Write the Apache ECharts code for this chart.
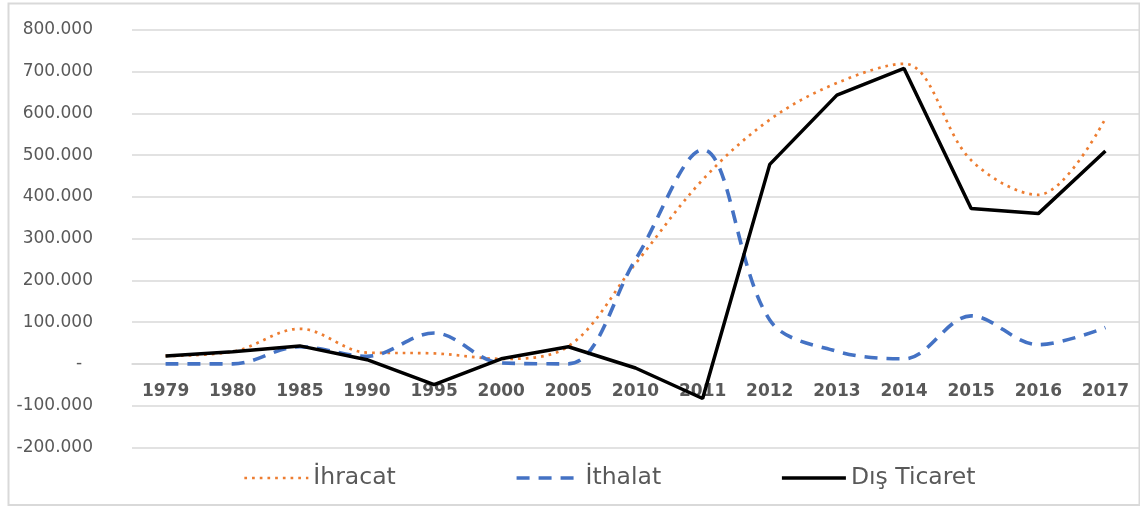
<!DOCTYPE html>
<html>
<head>
<meta charset="utf-8">
<script src="https://cdn.jsdelivr.net/npm/echarts@6/dist/echarts.min.js"></script>
<style>
  html, body { margin: 0; padding: 0; background: #ffffff; }
  #chart { width: 1140px; height: 507px; }
</style>
</head>
<body>
<div id="chart"></div>
<script>
// Years on the category axis
const years = ['1979', '1980', '1985', '1990', '1995', '2000', '2005', '2010', '2011', '2012', '2013', '2014', '2015', '2016', '2017'];

// Series values
const ihracat = [19000, 29000, 84000, 27000, 25000, 12000, 42000, 240000, 441000, 585000, 673000, 719000, 488000, 405000, 588000];
const ithalat = [0, 0, 41000, 18000, 74000, 2000, 0, 250000, 513000, 105000, 30000, 12000, 115000, 46000, 87000];
const disTicaret = [19000, 29000, 43000, 10000, -50000, 12000, 41000, -10000, -83000, 478000, 644000, 708000, 372000, 360000, 510000];

// Value axis range
const yMin = -200000;
const yMax = 800000;
const yStep = 100000;

const seriesNames = ['İhracat', 'İthalat', 'Dış Ticaret'];

// Line styles per series
const styles = [
  { color: '#ed7d31', width: 2.7, type: [2.7, 5], cap: 'butt' },
  { color: '#4472c4', width: 3.6, type: [13, 9], cap: 'butt' },
  { color: '#000000', width: 3.5, type: 'solid' }
];

// Plot area
const gridTop = 30;
const gridBottom = 59.7;
const gridHeight = 507 - gridTop - gridBottom;
// Category axis sits on the zero line of the value axis
const zeroOffset = -gridHeight * (0 - yMin) / (yMax - yMin);

// Thousands separated by dots, zero shown as a dash
function fmt(v) {
  if (v === 0) return '-  ';
  const s = Math.abs(v).toString().replace(/\B(?=(\d{3})+(?!\d))/g, '.');
  return (v < 0 ? '-' : '') + s;
}

const chart = echarts.init(document.getElementById('chart'), null, { renderer: 'canvas' });

chart.setOption({
  animation: false,
  backgroundColor: '#ffffff',
  graphic: [{
    type: 'rect',
    shape: { x: 8.5, y: 3.5, width: 1131, height: 501.5 },
    style: { fill: 'none', stroke: '#d9d9d9', lineWidth: 2 },
    silent: true,
    z: -1
  }],
  grid: { left: 132, right: 1, top: gridTop, bottom: gridBottom, containLabel: false },
  legend: {
    data: seriesNames.map((n, i) => ({ name: n, lineStyle: Object.assign({}, styles[i]) })),
    left: 238,
    top: 461,
    itemWidth: 64,
    itemHeight: 14,
    itemGap: 119,
    itemStyle: { opacity: 0 },
    textStyle: { fontFamily: 'DejaVu Sans', fontSize: 23.5, color: '#595959' }
  },
  xAxis: {
    type: 'category',
    data: years,
    boundaryGap: true,
    offset: zeroOffset,
    axisLine: { show: true, onZero: false, lineStyle: { color: '#d9d9d9', width: 1.5 } },
    axisTick: { show: false },
    axisLabel: {
      margin: 19,
      fontFamily: 'DejaVu Sans',
      fontWeight: 'bold',
      fontSize: 17,
      color: '#595959',
      interval: 0
    },
    splitLine: { show: false }
  },
  yAxis: {
    type: 'value',
    min: yMin,
    max: yMax,
    interval: yStep,
    axisLine: { show: false },
    axisTick: { show: false },
    axisLabel: {
      margin: 39,
      fontFamily: 'DejaVu Sans',
      fontSize: 17,
      color: '#595959',
      formatter: fmt
    },
    splitLine: { show: true, lineStyle: { color: '#d9d9d9', width: 1.5 } }
  },
  series: [
    {
      name: seriesNames[0],
      type: 'line',
      data: ihracat,
      smooth: 0.35,
      symbol: 'none',
      lineStyle: styles[0],
      itemStyle: { color: styles[0].color }
    },
    {
      name: seriesNames[1],
      type: 'line',
      data: ithalat,
      smooth: 0.35,
      symbol: 'none',
      lineStyle: styles[1],
      itemStyle: { color: styles[1].color }
    },
    {
      name: seriesNames[2],
      type: 'line',
      data: disTicaret,
      smooth: false,
      symbol: 'none',
      lineStyle: styles[2],
      itemStyle: { color: styles[2].color }
    }
  ]
});
</script>
</body>
</html>
